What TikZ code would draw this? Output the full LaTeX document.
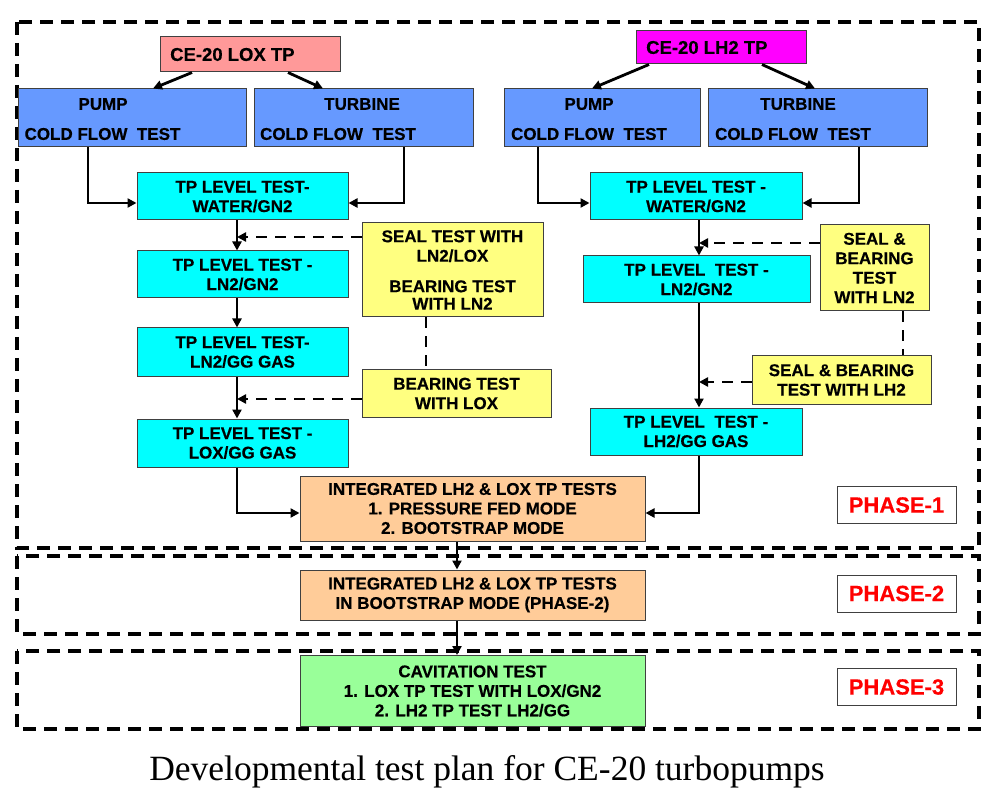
\documentclass[tikz,border=0pt]{standalone}
\usepackage{fontspec}
\setmainfont{Liberation Serif}
\setsansfont{Liberation Sans}[BoldFeatures={FakeBold=0.4}]
\usetikzlibrary{arrows.meta,calc}
\definecolor{cLox}{HTML}{FF9999}
\definecolor{cLh}{HTML}{FF00FF}
\definecolor{cBlue}{HTML}{6699FF}
\definecolor{cCyan}{HTML}{00FFFF}
\definecolor{cYel}{HTML}{FFFF80}
\definecolor{cOr}{HTML}{FFCC99}
\definecolor{cGr}{HTML}{99FF99}
\definecolor{cEdge}{HTML}{404040}
\definecolor{cRed}{HTML}{FF0000}
\tikzset{
  boxs/.style={draw=cEdge, line width=1pt, inner sep=0pt, align=center,
    font=\sffamily\bfseries\fontsize{17}{19.5}\selectfont},
  lbl/.style={inner sep=0pt, font=\sffamily\bfseries\fontsize{17}{19.5}\selectfont},
  ttl/.style={inner sep=0pt, font=\sffamily\bfseries\fontsize{18.5}{21}\selectfont},
  arr/.style={line width=2.8pt, -{Triangle[length=9pt,width=9pt]}},
  darr/.style={line width=2.8pt, dash pattern=on 11pt off 8pt, -{Triangle[length=9pt,width=9pt]}},
  dline/.style={line width=2.8pt, dash pattern=on 11pt off 8pt},
  frame/.style={line width=3.2pt, dash pattern=on 13pt off 8pt},
  phase/.style={draw=cEdge, line width=1pt, fill=white, minimum width=119pt, minimum height=37pt,
    inner sep=0pt, text=cRed, font=\sffamily\bfseries\fontsize{22}{24}\selectfont},
}
\begin{document}
\begin{tikzpicture}[x=1pt,y=-1pt]
\useasboundingbox[fill=white] (0,0) rectangle (997,805);
% frames
\draw[frame] (17,22) rectangle (979,548);
\draw[frame] (17,556) rectangle (979,634);
\draw[frame] (17,651) rectangle (979,729);
% top boxes
\node[boxs, fill=cLox, minimum width=180pt, minimum height=35pt] (loxtp) at (250,54.5) {};
\node[ttl, anchor=west] (loxtpt) at (170,54.5) {CE-20 LOX TP};
\node[boxs, fill=cLh, minimum width=170pt, minimum height=33pt] (lh2tp) at (721,47.5) {};
\node[ttl, anchor=west] (lh2tpt) at (646,47.5) {CE-20 LH2 TP};
\node[boxs, fill=cBlue, minimum width=228pt, minimum height=58pt] (lpump) at (132,118) {};
\node[boxs, fill=cBlue, minimum width=219pt, minimum height=58pt] (lturb) at (363.5,118) {};
\node[boxs, fill=cBlue, minimum width=196pt, minimum height=58pt] (rpump) at (602,118) {};
\node[boxs, fill=cBlue, minimum width=219pt, minimum height=58pt] (rturb) at (817.5,118) {};
\node[lbl] (lpumpa) at (103,104) {PUMP};
\node[lbl] (lpumpb) at (102.5,134) {COLD FLOW~ TEST};
\node[lbl] (lturba) at (362,104) {TURBINE};
\node[lbl] (lturbb) at (338,134) {COLD FLOW~ TEST};
\node[lbl] (rpumpa) at (589,104) {PUMP};
\node[lbl] (rpumpb) at (589,134) {COLD FLOW~ TEST};
\node[lbl] (rturba) at (798,104) {TURBINE};
\node[lbl] (rturbb) at (793,134) {COLD FLOW~ TEST};
% LOX column
\node[boxs, fill=cCyan, minimum width=211pt, minimum height=47pt] (lwater) at (242.5,196.5) {TP LEVEL TEST-\\WATER/GN2};
\node[boxs, fill=cCyan, minimum width=211pt, minimum height=47pt] (lln2) at (242.5,274.5) {TP LEVEL TEST -\\LN2/GN2};
\node[boxs, fill=cCyan, minimum width=211pt, minimum height=48pt] (lgg) at (242.5,352) {TP LEVEL TEST-\\LN2/GG GAS};
\node[boxs, fill=cCyan, minimum width=211pt, minimum height=48pt] (llox) at (242.5,443) {TP LEVEL TEST -\\LOX/GG GAS};
\node[boxs, fill=cYel, minimum width=181pt, minimum height=94pt] (lseal) at (452.5,270) {SEAL TEST WITH\\LN2/LOX\\[11pt]BEARING TEST\\[-2pt]WITH LN2};
\node[boxs, fill=cYel, minimum width=189pt, minimum height=47pt] (lbear) at (456.5,393.5) {BEARING TEST\\WITH LOX};
% LH2 column
\node[boxs, fill=cCyan, minimum width=212pt, minimum height=47pt] (rwater) at (696,196.5) {TP LEVEL TEST -\\WATER/GN2};
\node[boxs, fill=cCyan, minimum width=227pt, minimum height=47pt] (rln2) at (696.5,279.5) {TP LEVEL~ TEST -\\LN2/GN2};
\node[boxs, fill=cCyan, minimum width=212pt, minimum height=47pt] (rgg) at (696,431.5) {TP LEVEL~ TEST -\\LH2/GG GAS};
\node[boxs, fill=cYel, minimum width=109pt, minimum height=86pt] (rseal) at (874.5,268) {SEAL \&\\BEARING\\TEST\\WITH LN2};
\node[boxs, fill=cYel, minimum width=179pt, minimum height=48pt] (rbear) at (841.5,380) {SEAL \& BEARING\\TEST WITH LH2};
% integrated
\node[boxs, fill=cOr, minimum width=345pt, minimum height=65pt] (int1) at (472.5,508.5) {INTEGRATED LH2 \& LOX TP TESTS\\1. PRESSURE FED MODE\\2. BOOTSTRAP MODE};
\node[boxs, fill=cOr, minimum width=345pt, minimum height=50pt] (int2) at (472.5,595) {INTEGRATED LH2 \& LOX TP TESTS\\IN BOOTSTRAP MODE (PHASE-2)};
\node[boxs, fill=cGr, minimum width=345pt, minimum height=71pt] (cav) at (472.5,691) {CAVITATION TEST\\1. LOX TP TEST WITH LOX/GN2\\2. LH2 TP TEST LH2/GG};
% phases
\node[phase] (ph1) at (896.5,505) {PHASE-1};
\node[phase] (ph2) at (896.5,593.5) {PHASE-2};
\node[phase] (ph3) at (896.5,687) {PHASE-3};
% column coordinates
\coordinate (lcol) at (237,0);
\coordinate (rcol) at (699,0);
\coordinate (mcol) at (457,0);
% connectors top
\draw[arr] ([xshift=-58pt]loxtp.south) -- ([xshift=21pt]lpump.north);
\draw[arr] ([xshift=38pt]loxtp.south) -- ([xshift=-40.5pt]lturb.north);
\draw[arr] ([xshift=-72pt]lh2tp.south) -- ([xshift=-10pt]rpump.north);
\draw[arr] ([xshift=41pt]lh2tp.south) -- ([xshift=-2.5pt]rturb.north);
\draw[arr] ([xshift=-44pt]lpump.south) |- ([yshift=-6.5pt]lwater.west);
\draw[arr] ([xshift=40.5pt]lturb.south) |- ([yshift=-6.5pt]lwater.east);
\draw[arr] ([xshift=-64pt]rpump.south) |- ([yshift=-6.5pt]rwater.west);
\draw[arr] ([xshift=41.5pt]rturb.south) |- ([yshift=-6.5pt]rwater.east);
% LOX column
\draw[arr] (lwater.south -| lcol) -- (lln2.north -| lcol);
\draw[arr] (lln2.south -| lcol) -- (lgg.north -| lcol);
\draw[arr] (lgg.south -| lcol) -- (llox.north -| lcol);
\draw[darr] ([yshift=33pt]lseal.west) -- ([yshift=33pt]lseal.west -| lcol);
\draw[dline] ([xshift=-26.5pt]lseal.south) -- ([xshift=-26.5pt]lseal.south |- lbear.north);
\draw[darr] ([yshift=-5.5pt]lbear.west) -- ([yshift=-5.5pt]lbear.west -| lcol);
% LH2 column
\draw[arr] (rwater.south -| rcol) -- (rln2.north -| rcol);
\draw[arr] (rln2.south -| rcol) -- (rgg.north -| rcol);
\draw[darr] ([yshift=25pt]rseal.west) -- ([yshift=25pt]rseal.west -| rcol);
\draw[dline] ([xshift=28.5pt]rseal.south) -- ([xshift=28.5pt]rseal.south |- rbear.north);
\draw[darr] ([yshift=-2pt]rbear.west) -- ([yshift=-2pt]rbear.west -| rcol);
% integrated
\draw[arr] (llox.south -| lcol) |- ([yshift=-4.5pt]int1.west);
\draw[arr] (rgg.south -| rcol) |- ([yshift=-4.5pt]int1.east);
\draw[arr] (int1.south -| mcol) -- (int2.north -| mcol);
\draw[arr] (int2.south -| mcol) -- (cav.north -| mcol);
% caption
\node[inner sep=0pt, font=\fontsize{35.5}{40}\selectfont] (cap) at (487,772) {Developmental test plan for CE-20 turbopumps};
\end{tikzpicture}
\end{document}
